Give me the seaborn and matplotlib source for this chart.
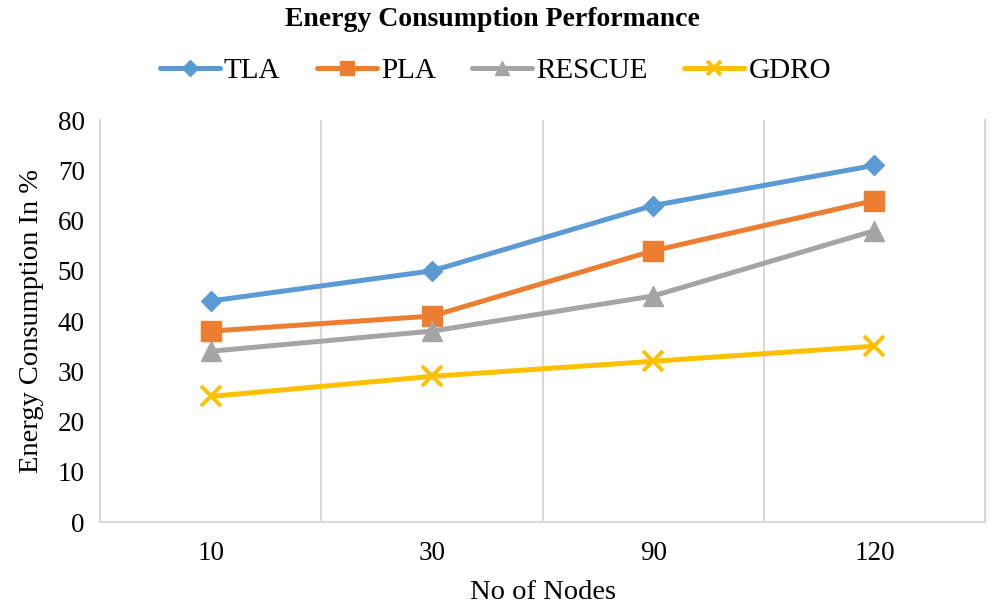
import matplotlib
matplotlib.use('Agg')
import matplotlib.pyplot as plt
import pandas as pd
import seaborn as sns

# Data
nodes = ['10', '30', '90', '120']
tla = [44, 50, 63, 71]
pla = [38, 41, 54, 64]
rescue = [34, 38, 45, 58]
gdro = [25, 29, 32, 35]

series = ['TLA', 'PLA', 'RESCUE', 'GDRO']
values = [tla, pla, rescue, gdro]
colors = ['#5B9BD5', '#ED7D31', '#A5A5A5', '#FFC000']
markers = ['D', 's', '^', 'x']
msizes = [10.5, 14, 14, 14]

sns.set_style('white')
plt.rcParams['font.family'] = ['Liberation Serif', 'DejaVu Serif']
plt.rcParams['text.color'] = 'black'
plt.rcParams['axes.labelcolor'] = 'black'

fig = plt.figure(figsize=(9.91, 6.08), dpi=100)
ax = fig.add_axes([0.101, 0.1414, 0.893, 0.661])

for name, vals, c, m, ms in zip(series, values, colors, markers, msizes):
    df = pd.DataFrame({'nodes': nodes, 'value': vals})
    sns.lineplot(data=df, x='nodes', y='value', color=c,
                 marker=m, markersize=ms, markeredgecolor=c,
                 markerfacecolor=c, markeredgewidth=2.8 if m == 'x' else 1,
                 linewidth=3.6, label=name, ax=ax)

ax.set_xlim(-0.5, 3.5)
ax.set_ylim(0, 80)
ax.set_yticks(range(0, 81, 10))

# vertical grid lines between categories
for xv in [0.5, 1.5, 2.5]:
    ax.axvline(xv, color='#D9D9D9', linewidth=1.5, zorder=0)

for side in ['left', 'bottom', 'right']:
    ax.spines[side].set_visible(True)
    ax.spines[side].set_color('#D9D9D9')
    ax.spines[side].set_linewidth(1.5)
ax.spines['top'].set_visible(False)

ax.tick_params(axis='both', length=0, labelsize=19.5, colors='black')
ax.tick_params(axis='x', pad=14)
ax.tick_params(axis='y', pad=11)

ax.set_xlabel('No of Nodes', fontsize=20.5, labelpad=10)
ax.set_ylabel('Energy Consumption In %', fontsize=20.5, labelpad=10)

fig.suptitle('Energy Consumption Performance', x=0.497, y=0.988,
             fontsize=20, fontweight='bold')

ax.legend(ncol=4, frameon=False,
          loc='center', bbox_to_anchor=(0.5, 0.883),
          bbox_transform=fig.transFigure, fontsize=21,
          handlelength=2.05, handletextpad=0.15, columnspacing=1.25,
          markerscale=0.75)

fig.savefig('out.png', dpi=100)
